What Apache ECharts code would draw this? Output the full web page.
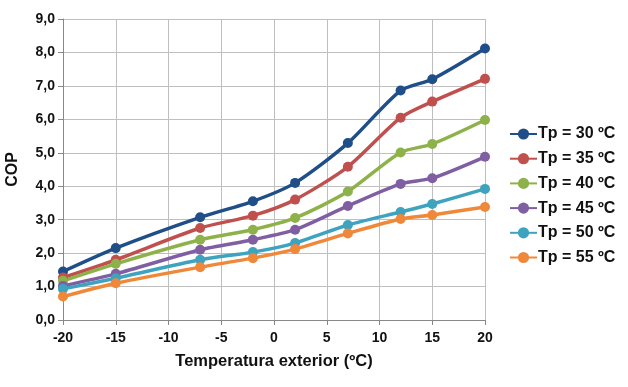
<!DOCTYPE html>
<html><head><meta charset="utf-8">
<script src="https://cdn.jsdelivr.net/npm/echarts@6/dist/echarts.min.js"></script>
<style>html,body{margin:0;padding:0;background:#fff}#c{width:628px;height:387px}</style>
</head><body><div id="c"></div>
<script>
const temps = [-20, -15, -7, -2, 2, 7, 12, 15, 20];
const seriesNames = ['Tp = 30 ºC','Tp = 35 ºC','Tp = 40 ºC','Tp = 45 ºC','Tp = 50 ºC','Tp = 55 ºC'];
const tp30 = [1.45, 2.15, 3.07, 3.55, 4.10, 5.29, 6.86, 7.20, 8.12];
const tp35 = [1.27, 1.80, 2.75, 3.12, 3.60, 4.58, 6.05, 6.53, 7.21];
const tp40 = [1.17, 1.68, 2.40, 2.70, 3.05, 3.84, 5.01, 5.26, 5.98];
const tp45 = [1.02, 1.38, 2.10, 2.40, 2.70, 3.41, 4.07, 4.24, 4.88];
const tp50 = [0.93, 1.25, 1.80, 2.03, 2.30, 2.84, 3.23, 3.47, 3.92];
const tp55 = [0.70, 1.10, 1.58, 1.85, 2.12, 2.59, 3.02, 3.14, 3.38];
const allValues = [tp30, tp35, tp40, tp45, tp50, tp55];
const colors = ['#1F4E88','#C0504D','#8DB249','#7F5FA1','#3EA3BE','#F0883A'];

const chart = echarts.init(document.getElementById('c'), null, {renderer:'canvas'});
const font = 'Liberation Sans, Arial, sans-serif';
chart.setOption({
  animation: false,
  backgroundColor: '#fff',
  color: colors,
  grid: {left: 63, right: 143, top: 19, bottom: 67, containLabel: false, outerBoundsMode: 'none'},
  legend: {
    orient: 'vertical', left: 504, top: 121, itemGap: 8.7,
    itemWidth: 27, itemHeight: 14,
    textStyle: {fontFamily: font, fontSize: 16, fontWeight: 'bold', color: '#111', padding:[0,0,0,-4]},
    data: seriesNames
  },
  xAxis: {
    type: 'value', min: -20, max: 20, interval: 5,
    name: 'Temperatura exterior (ºC)', nameLocation: 'middle', nameGap: 33,
    nameTextStyle: {fontFamily: font, fontSize: 16.5, fontWeight: 'bold', color: '#111'},
    axisLine: {lineStyle: {color: '#888', width: 1}},
    axisTick: {show: true, length: 5, lineStyle: {color: '#888'}},
    axisLabel: {fontFamily: font, fontSize: 14, fontWeight: 'bold', color: '#111', margin: 11},
    splitLine: {show: true, lineStyle: {color: '#BFBFBF', width: 1}}
  },
  yAxis: {
    type: 'value', min: 0, max: 9, interval: 1,
    name: 'COP', nameLocation: 'middle', nameGap: 42, nameRotate: 90,
    nameTextStyle: {fontFamily: font, fontSize: 16, fontWeight: 'bold', color: '#111'},
    axisLine: {show: true, onZero: false, lineStyle: {color: '#888', width: 1}},
    axisTick: {show: true, length: 5, lineStyle: {color: '#888'}},
    axisLabel: {fontFamily: font, fontSize: 14, fontWeight: 'bold', color: '#111', margin: 8,
      formatter: v => v.toFixed(1).replace('.', ',')},
    splitLine: {show: true, lineStyle: {color: '#BFBFBF', width: 1}}
  },
  series: seriesNames.map((n, i) => ({
    name: n, type: 'line', smooth: 0.25,
    data: temps.map((t, j) => [t, allValues[i][j]]),
    symbol: 'circle', symbolSize: 10,
    lineStyle: {width: 3.5, color: colors[i]},
    itemStyle: {color: colors[i]}
  }))
});
</script></body></html>
